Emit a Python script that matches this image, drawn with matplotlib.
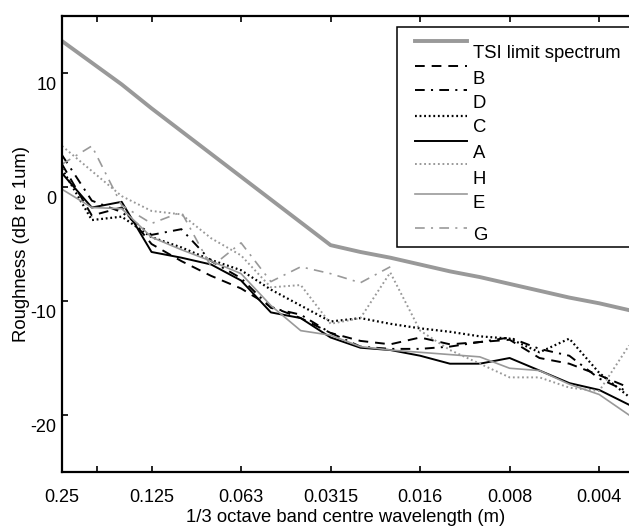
import matplotlib
matplotlib.use("Agg")
import matplotlib.pyplot as plt
import matplotlib.transforms as mtransforms
from matplotlib.lines import Line2D
from matplotlib.patches import Rectangle
import numpy as np

plt.rcParams['font.family'] = ['Liberation Sans', 'DejaVu Sans']
plt.rcParams['lines.scale_dashes'] = False
plt.rcParams['axes.unicode_minus'] = False

# 1/3 octave bands, index 0 = 0.25 m ... 19 = 0.00315 m
bands = np.arange(20)
tick_pos = [0, 1.17, 3, 6, 9, 12, 15, 18]
tick_labels = ['0.25', '', '0.125', '0.063', '0.0315', '0.016', '0.008', '0.004']

tsi = [12.8, 10.9, 9.0, 6.9, 4.9, 2.9, 0.9, -1.1, -3.1, -5.1,
       -5.7, -6.2, -6.8, -7.4, -7.9, -8.5, -9.1, -9.7, -10.2, -10.8]
B = [2.0, -2.5, -1.8, -5.0, -6.5, -7.8, -8.9, -10.5, -11.5, -12.8,
     -13.5, -13.8, -13.2, -13.8, -13.6, -13.4, -15.0, -15.5, -16.5, -17.6]
D = [2.8, -1.2, -2.2, -4.2, -3.7, -6.5, -8.0, -10.6, -11.2, -12.8,
     -14.0, -14.2, -14.2, -14.0, -13.6, -13.2, -14.2, -14.8, -16.8, -18.0]
C = [1.6, -2.9, -2.6, -4.4, -5.3, -6.4, -7.3, -9.0, -10.4, -11.8,
     -11.5, -12.0, -12.4, -12.7, -13.1, -13.3, -14.5, -13.3, -16.3, -18.4]
A = [1.2, -1.8, -1.3, -5.7, -6.2, -6.8, -8.2, -11.0, -11.5, -13.2,
     -14.1, -14.3, -14.8, -15.5, -15.5, -15.0, -16.1, -17.2, -17.8, -19.1]
H = [3.6, 1.4, -0.8, -2.1, -2.4, -4.5, -6.0, -8.8, -8.6, -12.0,
     -11.5, -7.5, -12.6, -14.3, -15.5, -16.7, -16.7, -17.6, -17.9, -13.9]
E = [-0.2, -1.8, -1.9, -4.4, -5.5, -6.5, -7.6, -10.4, -12.6, -13.0,
     -14.0, -14.3, -14.5, -14.7, -14.9, -15.9, -16.1, -17.3, -18.2, -20.0]
G = [2.0, 3.6, -1.6, -3.2, -2.2, -7.0, -4.9, -8.3, -7.0, -7.6, -8.4, -7.0]

gray = '#999999'
dashed = (0, (7, 5))
dashdot = (0, (7, 4.5, 1.5, 4.5))
dotted = (0, (1.3, 2.0))

series = [
    ('TSI limit spectrum', tsi, gray, '-', 2.8),
    ('B', B, 'black', dashed, 1.4),
    ('D', D, 'black', dashdot, 1.4),
    ('C', C, 'black', dotted, 1.6),
    ('A', A, 'black', '-', 1.4),
    ('H', H, gray, dotted, 1.4),
    ('E', E, gray, '-', 1.2),
    ('G', G, gray, dashdot, 1.2),
]

W, Hpx = 629, 529
fig = plt.figure(figsize=(W / 100, Hpx / 100), dpi=100)
ax = fig.add_axes([62 / W, 1 - 472 / Hpx, (629 - 62) / W, (472 - 16) / Hpx])

for name, vals, col, ls, lw in series:
    ax.plot(bands[:len(vals)], vals, color=col, linestyle=ls, linewidth=lw)

ax.set_xlim(0, 19)
ax.set_ylim(-25, 15)
ax.set_xticks(tick_pos)
ax.set_xticklabels(tick_labels)
ax.set_yticks([-20, -10, 0, 10])
ax.tick_params(axis='x', direction='in', top=True, length=4.5, width=1.2,
               pad=12, labelsize=13)
ax.tick_params(axis='y', direction='in', length=4.5, width=1.2,
               pad=4, labelsize=13)
for s in ['left', 'bottom', 'top']:
    ax.spines[s].set_linewidth(1.6)
ax.spines['right'].set_visible(False)

# MATLAB export puts y tick labels a little below their ticks
off = mtransforms.ScaledTranslation(0, -11 / 100, fig.dpi_scale_trans)
for lab in ax.get_yticklabels():
    lab.set_transform(lab.get_transform() + off)

ax.set_xlabel('1/3 octave band centre wavelength (m)', fontsize=13.3)
ax.set_ylabel('Roughness (dB re 1um)', fontsize=13.3)
ax.yaxis.set_label_coords(-0.056, 0.5)
ax.xaxis.set_label_coords(0.5, -0.082)


def fx(px):
    return px / W


def fy(py):
    return 1 - py / Hpx


# legend drawn by hand to mimic the shifted MATLAB layout
box = Rectangle((fx(397), fy(247)), fx(640) - fx(397), fy(27) - fy(247),
                transform=fig.transFigure, facecolor='white',
                edgecolor='black', linewidth=1.1, zorder=5)
fig.add_artist(box)
line_y = [41, 66, 90, 116, 141, 164, 194, 228]
text_y = [53, 79, 103, 128, 154, 180, 203, 235]
for (name, vals, col, ls, lw), ly, ty in zip(series, line_y, text_y):
    fig.add_artist(Line2D([fx(415), fx(467)], [fy(ly), fy(ly)],
                          transform=fig.transFigure, color=col,
                          linestyle=ls, linewidth=lw, zorder=6))
    fig.text(fx(473), fy(ty), name, fontsize=13.3, va='center', ha='left',
             zorder=6)

fig.savefig('out.png', dpi=100)
